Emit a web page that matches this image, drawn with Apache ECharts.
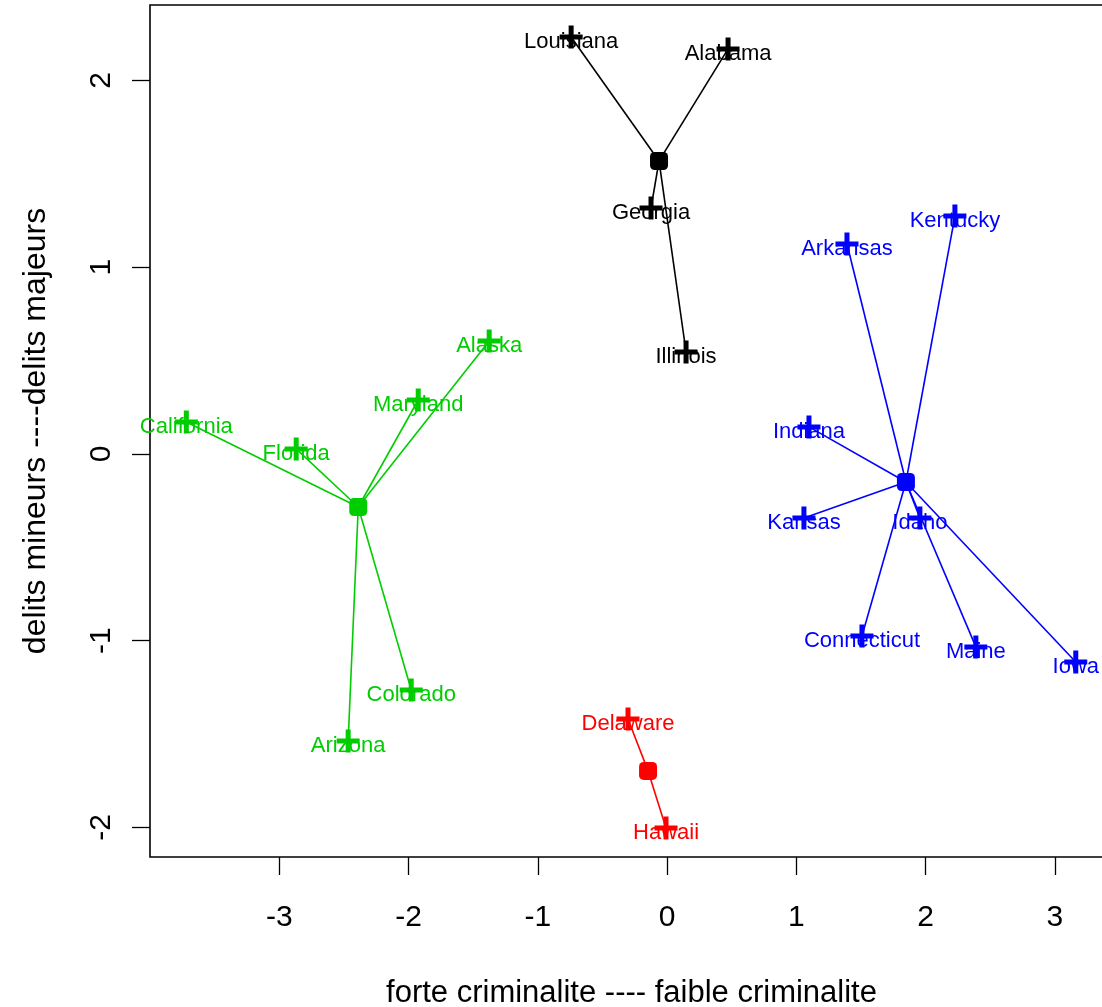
<!DOCTYPE html>
<html>
<head>
<meta charset="utf-8">
<script src="https://cdn.jsdelivr.net/npm/echarts@6/dist/echarts.min.js"></script>
<style>html,body{margin:0;padding:0;background:#fff}#c{width:1102px;height:1007px}</style>
</head>
<body>
<div id="c"></div>
<script>
// ---- data ----
const blackNames = ['Louisiana', 'Alabama', 'Georgia', 'Illinois'];
const blackX = [-0.742, 0.472, -0.124, 0.147];
const blackY = [2.233, 2.169, 1.317, 0.546];
const blackCenter = [-0.062, 1.569];

const blueNames = ['Arkansas', 'Kentucky', 'Indiana', 'Kansas', 'Idaho', 'Connecticut', 'Maine', 'Iowa'];
const blueX = [1.392, 2.227, 1.098, 1.059, 1.956, 1.508, 2.389, 3.162];
const blueY = [1.124, 1.274, 0.145, -0.343, -0.343, -0.975, -1.033, -1.114];
const blueCenter = [1.848, -0.150];

const greenNames = ['California', 'Florida', 'Maryland', 'Alaska', 'Colorado', 'Arizona'];
const greenX = [-3.719, -2.869, -1.925, -1.376, -1.979, -2.467];
const greenY = [0.171, 0.027, 0.289, 0.605, -1.264, -1.537];
const greenCenter = [-2.389, -0.284];

const redNames = ['Delaware', 'Hawaii'];
const redX = [-0.302, -0.008];
const redY = [-1.419, -2.003];
const redCenter = [-0.147, -1.697];

const xTicks = [-3, -2, -1, 0, 1, 2, 3];
const yTicks = [-2, -1, 0, 1, 2];
const xTitle = 'forte criminalite ---- faible criminalite';
const yTitle = 'delits mineurs ----delits majeurs';

// ---- chart ----
const FONT = '"Liberation Sans", Arial, sans-serif';
const plus = 'path://M9,0 L14,0 L14,9 L23,9 L23,14 L14,14 L14,23 L9,23 L9,14 L0,14 L0,9 L9,9 Z';

const groups = [
  {names: blackNames, xs: blackX, ys: blackY, c: blackCenter, color: '#000000'},
  {names: blueNames, xs: blueX, ys: blueY, c: blueCenter, color: '#0000FF'},
  {names: greenNames, xs: greenX, ys: greenY, c: greenCenter, color: '#00CD00'},
  {names: redNames, xs: redX, ys: redY, c: redCenter, color: '#FF0000'}
];

const series = [];
groups.forEach(g => {
  series.push({
    type: 'lines', coordinateSystem: 'cartesian2d', silent: true, z: 2,
    lineStyle: {color: g.color, width: 1.6, opacity: 1, curveness: 0},
    data: g.names.map((n, i) => ({coords: [g.c, [g.xs[i], g.ys[i]]]}))
  });
  series.push({
    type: 'scatter', silent: true, z: 3,
    symbol: 'roundRect', symbolSize: 18,
    itemStyle: {color: g.color, opacity: 1},
    data: [g.c]
  });
  series.push({
    type: 'scatter', silent: true, z: 4,
    symbol: plus, symbolSize: 23,
    itemStyle: {color: g.color, opacity: 1},
    label: {show: true, position: 'inside', offset: [0, 5], color: g.color,
            fontSize: 22, fontFamily: FONT, formatter: p => p.name},
    data: g.names.map((n, i) => ({name: n, value: [g.xs[i], g.ys[i]]}))
  });
});

const chart = echarts.init(document.getElementById('c'), null, {renderer: 'canvas'});
chart.setOption({
  animation: false,
  backgroundColor: '#ffffff',
  grid: {left: 150, top: 5, width: 963, height: 852, show: true, outerBoundsMode: 'none', containLabel: false,
         borderColor: '#000', borderWidth: 1.6, backgroundColor: 'transparent'},
  xAxis: {
    type: 'value', min: -4.0, max: 3.45,
    axisLine: {show: false, onZero: false},
    splitLine: {show: false},
    axisTick: {show: true, length: 18, lineStyle: {color: '#000', width: 1.3}, customValues: xTicks},
    axisLabel: {fontSize: 30, fontFamily: FONT, color: '#000', margin: 46, customValues: xTicks},
    name: xTitle, nameLocation: 'middle', nameGap: 121,
    nameTextStyle: {fontSize: 31, fontFamily: FONT, color: '#000'}
  },
  yAxis: {
    type: 'value', min: -2.158, max: 2.404,
    axisLine: {show: false, onZero: false},
    splitLine: {show: false},
    axisTick: {show: true, length: 18, lineStyle: {color: '#000', width: 1.3}, customValues: yTicks},
    axisLabel: {fontSize: 30, fontFamily: FONT, color: '#000', margin: 33, rotate: 90, customValues: yTicks},
    name: yTitle, nameLocation: 'middle', nameGap: 98, nameRotate: 90,
    nameTextStyle: {fontSize: 32, fontFamily: FONT, color: '#000'}
  },
  series: series
});
</script>
</body>
</html>
